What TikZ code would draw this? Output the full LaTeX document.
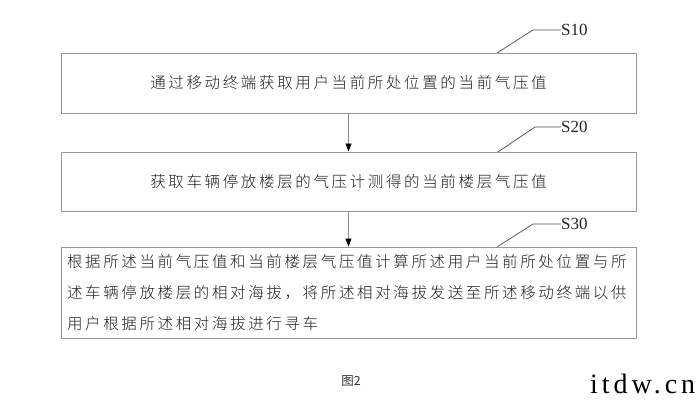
\documentclass[tikz,border=0pt]{standalone}
\usepackage{fontspec}
\setmainfont{Liberation Serif}
\newfontfamily\cjk[LetterSpace=17]{Noto Sans CJK SC Light}
\newfontfamily\cjkcap{Noto Sans CJK SC}
\newfontfamily\wm[LetterSpace=14]{Liberation Serif}
\usetikzlibrary{arrows.meta}
\begin{document}
\begin{tikzpicture}[x=1pt,y=-1pt,
  stepbox/.style={draw=black!40, line width=0.9pt, minimum width=575pt, inner sep=0pt, text=black!88,
    font=\cjk\fontsize{15.5}{31}\selectfont},
  flow/.style={draw=black!45, line width=0.8pt, -{Triangle[width=6pt,length=8pt,fill=black,color=black]}},
  leader/.style={draw=black!70, line width=0.7pt},
  steplabel/.style={anchor=west, inner sep=0pt, font=\fontsize{17}{17}\selectfont, text=black!85}]
\useasboundingbox[fill=white] (0,0) rectangle (700,415);
\node[stepbox, minimum height=60pt] (b1) at (348.5,83) {通过移动终端获取用户当前所处位置的当前气压值};
\node[stepbox, minimum height=59pt] (b2) at (348.5,181.5) {获取车辆停放楼层的气压计测得的当前楼层气压值};
\node[stepbox, minimum height=91pt, text width=563pt, align=left] (b3) at (348.5,292.5)
  {根据所述当前气压值和当前楼层气压值计算所述用户当前所处位置与所\\述车辆停放楼层的相对海拔，将所述相对海拔发送至所述移动终端以供\\用户根据所述相对海拔进行寻车};
\draw[flow] (b1.south) -- (b2.north);
\draw[flow] (b2.south) -- (b3.north);
% leaders
\node[steplabel] (s10) at (561,30) {S10};
\node[steplabel] (s20) at (561,127) {S20};
\node[steplabel] (s30) at (561,224) {S30};
\coordinate (l1) at (497,53);
\coordinate (k1) at (533,30);
\coordinate (l2) at (498,152);
\coordinate (k2) at (535,127);
\coordinate (l3) at (497,247);
\coordinate (k3) at (533,224);
\draw[leader] (l1) -- (k1) -- (s10.west);
\draw[leader] (l2) -- (k2) -- (s20.west);
\draw[leader] (l3) -- (k3) -- (s30.west);
\node[font=\cjkcap\fontsize{12.5}{12.5}\selectfont, text=black!80, inner sep=0pt] (cap) at (351,381) {图2};
\node[font=\wm\fontsize{28}{28}\selectfont, anchor=base west, inner sep=0pt, text=black] (wm) at (590,393) {itdw.cn};
\end{tikzpicture}
\end{document}
